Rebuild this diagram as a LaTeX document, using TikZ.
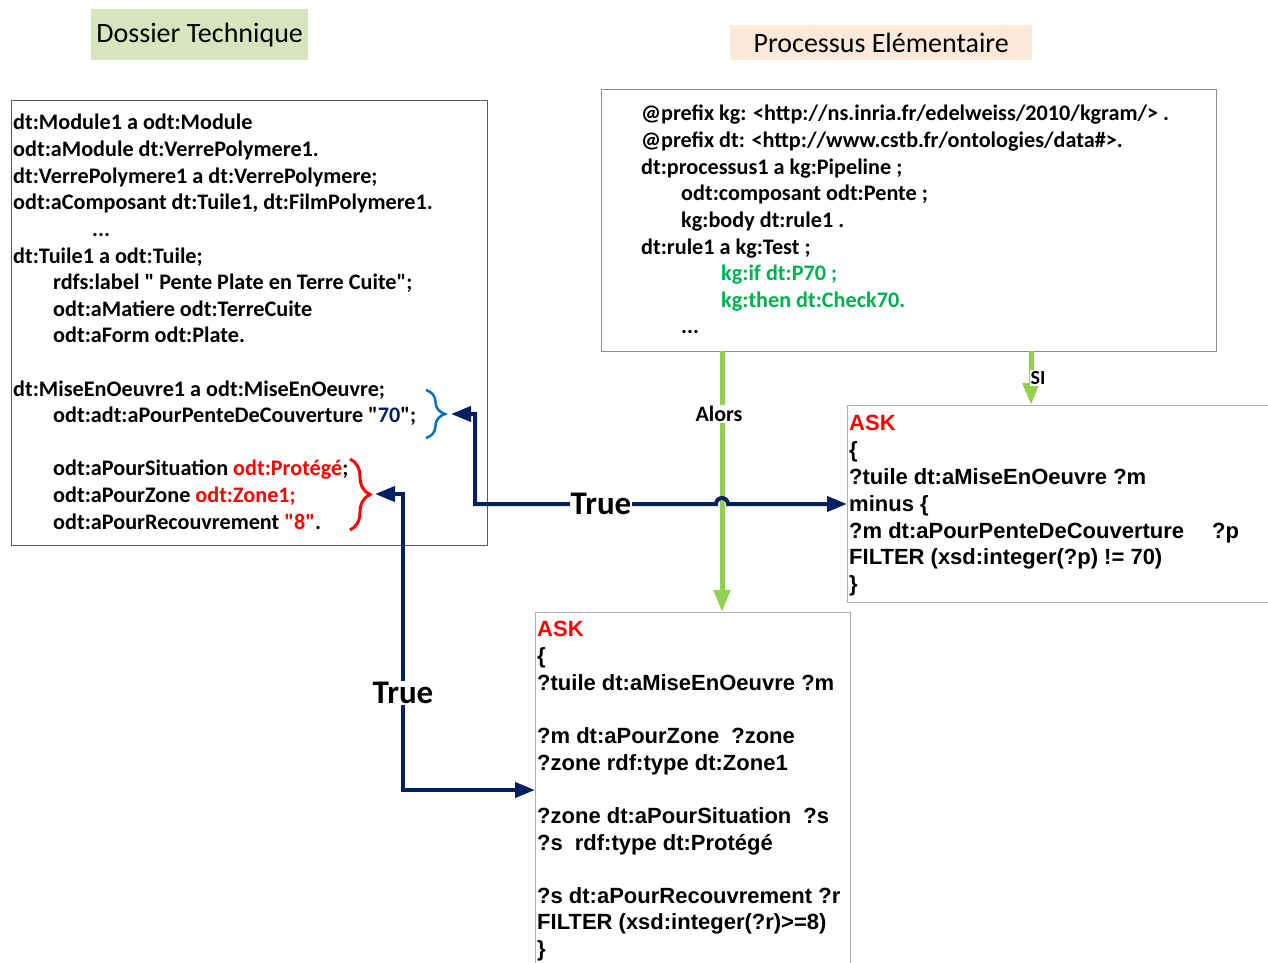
\documentclass[tikz,border=0pt]{standalone}
\usepackage{fontspec}
\setmainfont{Carlito}[Ligatures=TeXOff]
\newfontfamily\arialfont{Liberation Sans}[Ligatures=TeXOff]
\usetikzlibrary{arrows.meta,decorations.pathreplacing}
\definecolor{navyc}{HTML}{002060}
\definecolor{greenc}{HTML}{92D050}
\definecolor{codegreen}{HTML}{00B050}
\definecolor{bluebr}{HTML}{0070C0}
\definecolor{titlegreen}{HTML}{D7E4BD}
\definecolor{titlepeach}{HTML}{FDE9D9}
\definecolor{darkframe}{HTML}{595959}
\definecolor{midframe}{HTML}{8C8C8C}
\definecolor{lightframe}{HTML}{B0B0B0}
\newcommand{\sq}{\symbol{34}}
\begin{document}
\begin{tikzpicture}[x=1pt,y=-1pt,
  ln/.style={anchor=base west, inner sep=0pt, font=\fontsize{22.2}{26}\selectfont\bfseries},
  lnr/.style={anchor=base west, inner sep=0pt, font=\fontsize{22.2}{26}\selectfont\bfseries},
  lna/.style={anchor=base west, inner sep=0pt, font=\fontsize{22}{26}\selectfont\arialfont\bfseries},
  framebox/.style={draw, line width=1pt, inner sep=0pt, anchor=north west},
  titlebox/.style={inner sep=0pt, anchor=north west, font=\fontsize{28}{32}\selectfont},
  navyline/.style={draw=navyc, line width=4pt, {Triangle[length=20pt,width=15pt]}-{Triangle[length=20pt,width=15pt]}},
  greenline/.style={draw=greenc, line width=5pt, -{Triangle[length=22pt,width=16pt]}},
  truelabel/.style={fill=white, inner sep=1pt, font=\fontsize{33}{36}\selectfont\bfseries},
  smalllabel/.style={fill=white, inner sep=1pt, font=\fontsize{22}{24}\selectfont\bfseries},
]
\useasboundingbox (0,0) rectangle (1268,963);
\fill[white] (0,0) rectangle (1268,963);

% titles
\node[titlebox, fill=titlegreen, minimum width=217, minimum height=51] (t1) at (91,9) {Dossier Technique};
\node[titlebox, fill=titlepeach, minimum width=302, minimum height=35] (t2) at (730,25) {Processus Elémentaire};

% frames
\node[framebox, draw=darkframe, minimum width=476, minimum height=445] (dt) at (11,100) {};
\node[framebox, draw=midframe, minimum width=615, minimum height=262] (pe) at (601,89) {};
\node[framebox, draw=lightframe, minimum width=440, minimum height=197] (askR) at (847,405) {};
\node[framebox, draw=lightframe, minimum width=315, minimum height=380] (askB) at (535,612) {};

% left text
\node[ln] (a1) at (13,130) {dt:Module1 a odt:Module};
\node[ln] (a2) at (13,156.6) {odt:aModule dt:VerrePolymere1.};
\node[ln] (a3) at (13,183.2) {dt:VerrePolymere1 a dt:VerrePolymere;};
\node[ln] (a4) at (13,209.8) {odt:aComposant dt:Tuile1, dt:FilmPolymere1.};
\node[ln] (a5) at (92,236.4) {...};
\node[ln] (a6) at (13,263) {dt:Tuile1 a odt:Tuile;};
\node[ln] (a7) at (53,289.6) {rdfs:label \sq{} Pente Plate en Terre Cuite\sq;};
\node[ln] (a8) at (53,316.2) {odt:aMatiere odt:TerreCuite};
\node[ln] (a9) at (53,342.8) {odt:aForm odt:Plate.};
\node[ln] (a10) at (13,396) {dt:MiseEnOeuvre1 a odt:MiseEnOeuvre;};
\node[ln] (a11) at (53,422.6) {odt:adt:aPourPenteDeCouverture \sq{\color{navyc}70}\sq;};
\node[ln] (a12) at (53,475.8) {odt:aPourSituation {\color{red}odt:Protégé};};
\node[ln] (a13) at (53,502.4) {odt:aPourZone {\color{red}odt:Zone1;}};
\node[ln] (a14) at (53,529) {odt:aPourRecouvrement {\color{red}\sq 8\sq}.};

% right top text
\node[lnr] (b1) at (641,121) {@prefix kg: <http://ns.inria.fr/edelweiss/2010/kgram/> .};
\node[lnr] (b2) at (641,147.6) {@prefix dt: <http://www.cstb.fr/ontologies/data\#>.};
\node[lnr] (b3) at (641,174.2) {dt:processus1 a kg:Pipeline ;};
\node[lnr] (b4) at (681,200.8) {odt:composant odt:Pente ;};
\node[lnr] (b5) at (681,227.4) {kg:body dt:rule1 .};
\node[lnr] (b6) at (641,254) {dt:rule1 a kg:Test ;};
\node[lnr, text=codegreen] (b7) at (721,280.6) {kg:if dt:P70 ;};
\node[lnr, text=codegreen] (b8) at (721,307.2) {kg:then dt:Check70.};
\node[lnr] (b9) at (681,333.8) {...};

% ASK right
\node[lna, text=red] (c1) at (849,430) {ASK};
\node[lna] (c2) at (849,457) {\{};
\node[lna] (c3) at (849,484) {?tuile dt:aMiseEnOeuvre ?m};
\node[lna] (c4) at (849,511) {minus \{};
\node[lna] (c5) at (849,538) {?m dt:aPourPenteDeCouverture\hspace{28pt}?p};
\node[lna] (c6) at (849,564) {FILTER (xsd:integer(?p) != 70)};
\node[lna] (c7) at (849,591) {\}};

% ASK bottom
\node[lna, text=red] (d1) at (537,636) {ASK};
\node[lna] (d2) at (537,663) {\{};
\node[lna] (d3) at (537,690) {?tuile dt:aMiseEnOeuvre ?m};
\node[lna] (d4) at (537,743) {?m dt:aPourZone\hspace{12pt}?zone};
\node[lna] (d5) at (537,770) {?zone rdf:type dt:Zone1};
\node[lna] (d6) at (537,823) {?zone dt:aPourSituation\hspace{12pt}?s};
\node[lna] (d7) at (537,850) {?s\hspace{12pt}rdf:type dt:Protégé};
\node[lna] (d8) at (537,903) {?s dt:aPourRecouvrement ?r};
\node[lna] (d9) at (537,929.5) {FILTER (xsd:integer(?r)>=8)};
\node[lna] (d10) at (537,956) {\}};

% braces
\coordinate (bb1) at (426,390);
\coordinate (bb2) at (426,438);
\coordinate (btip) at (451,414);
\draw[bluebr, line width=2.5pt, decorate, decoration={brace, amplitude=19pt, aspect=0.5}] (bb1) -- (bb2);
\coordinate (rb1) at (350,459);
\coordinate (rb2) at (350,530);
\coordinate (rtip) at (375,494);
\draw[red, line width=3pt, decorate, decoration={brace, amplitude=20pt, aspect=0.5}] (rb1) -- (rb2);

% green arrows
\coordinate (ga) at (722,351);
\coordinate (gb) at (1031,351);
\draw[greenline] (ga) -- (ga |- askB.north);
\draw[greenline] (gb) -- (gb |- askR.north);
\node[smalllabel] (alors) at (719,414) {Alors};
\node[smalllabel, font=\fontsize{20}{22}\selectfont\bfseries] (si) at (1038,378) {SI};

% navy arrows
\coordinate (tj) at (475,504);
\coordinate (hopL) at (716,504);
\draw[navyline] (btip) -| (tj) -- (hopL) arc[start angle=180, end angle=0, radius=6pt] -- (askR.west);
\node[truelabel] (true1) at (601,504) {True};
\coordinate (t2c) at (403,790);
\draw[navyline] (rtip) -| (t2c) -- (askB.west |- t2c);
\node[truelabel] (true2) at (403,693) {True};
\end{tikzpicture}
\end{document}
